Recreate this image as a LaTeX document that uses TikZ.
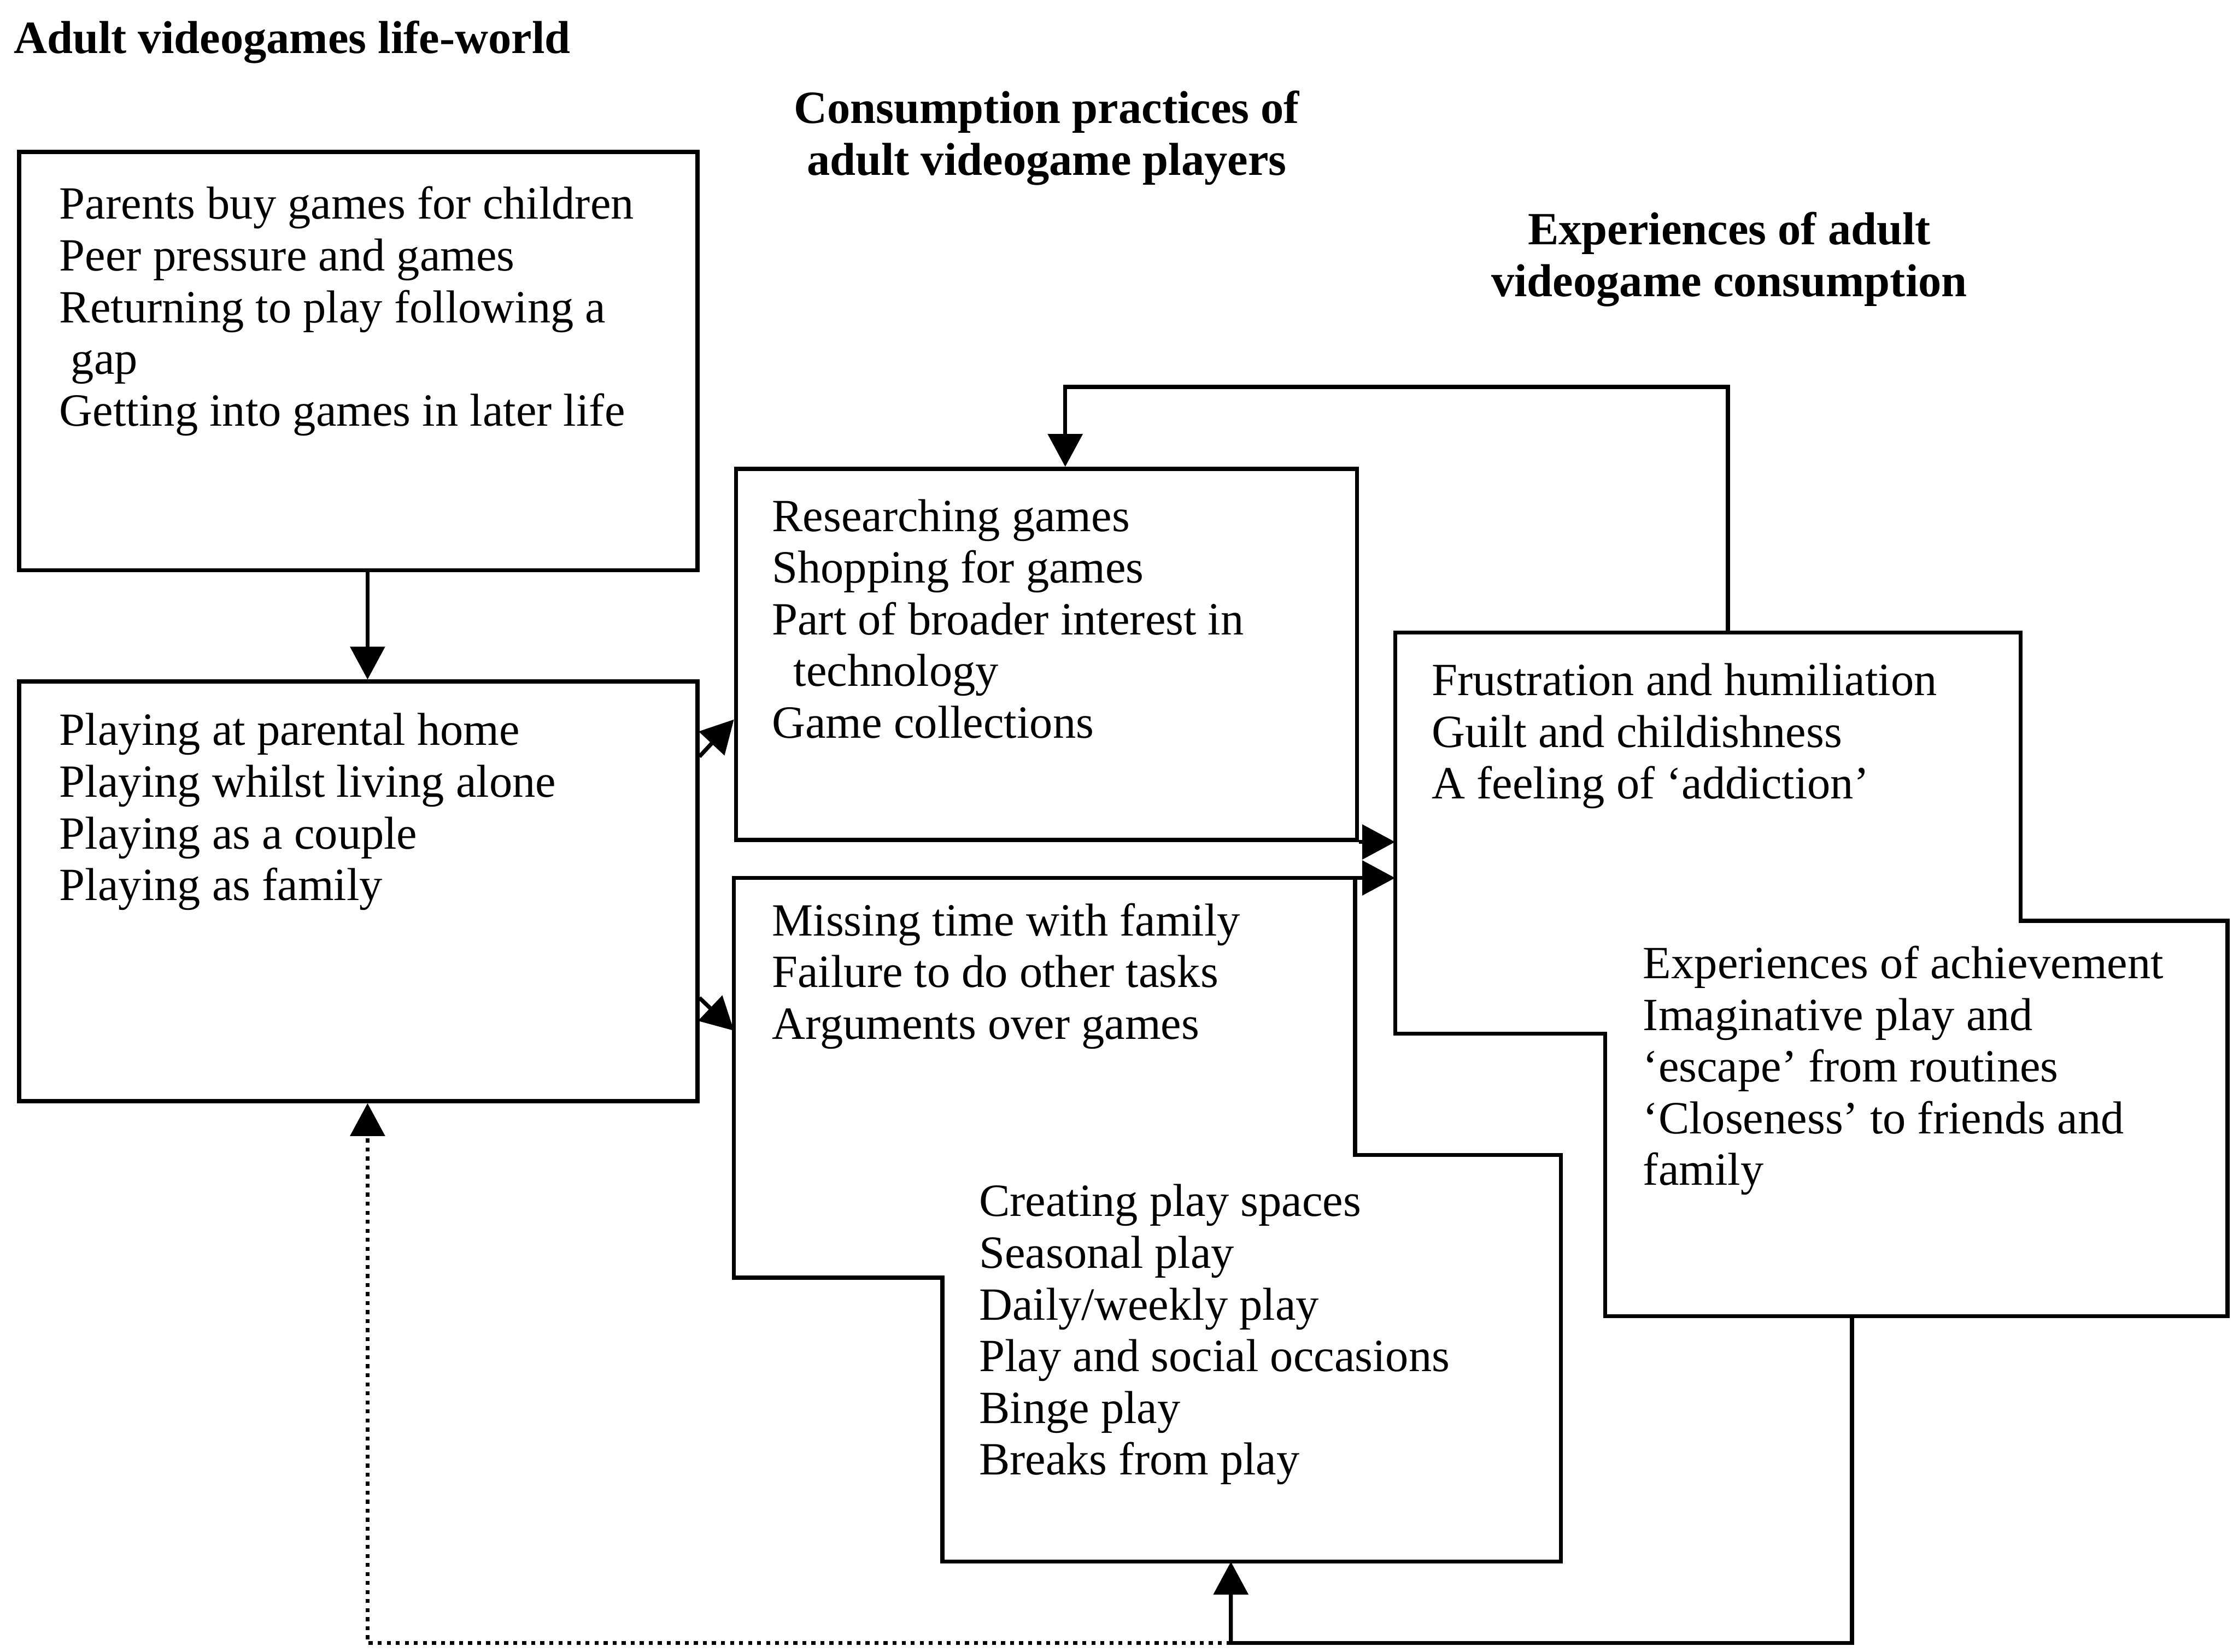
\documentclass[tikz,border=0pt]{standalone}
\usepackage{fontspec}
\setmainfont{Liberation Serif}
\usetikzlibrary{arrows.meta}

\begin{document}
\begin{tikzpicture}[x=0.1mm, y=-0.1mm,
        box/.style={draw, thick, inner sep=0pt, anchor=north west},
        txt/.style={inner sep=0pt, anchor=north west, align=left, font=\fontsize{9.2}{10.3}\selectfont},
        head/.style={inner sep=0pt, anchor=north, align=center, font=\fontsize{9.2}{10.3}\selectfont\bfseries},
        arr/.style={thick, -{Triangle[length=2.3mm, width=2.4mm]}}]
        \useasboundingbox (0,0) rectangle (1568,1157);

        % Headings
        \node[head, anchor=north west] (H_1) at (9,14) {Adult videogames life-world};
        \node[head] (H_2) at (733,63) {Consumption practices of\\adult videogame players};
        \node[head] (H_3) at (1211,148) {Experiences of adult\\videogame consumption};

        % Rectangular boxes
        \node[box, minimum width=47.5mm, minimum height=29.3mm] (A) at (12,105) {};
        \node[box, minimum width=47.5mm, minimum height=29.4mm] (B) at (12,476) {};
        \node[box, minimum width=43.5mm, minimum height=26mm] (C) at (514,327) {};

        % Define corners of the stepped boxes
        \coordinate (D_1) at (514,615);
        \coordinate (D_2) at (949,615);
        \coordinate (D_3) at (949,809);
        \coordinate (D_4) at (1093,809);
        \coordinate (D_5) at (1093,1094);
        \coordinate (D_6) at (660,1094);
        \coordinate (D_7) at (660,895);
        \coordinate (D_8) at (514,895);

        \coordinate (E_1) at (977,443);
        \coordinate (E_2) at (1415,443);
        \coordinate (E_3) at (1415,645);
        \coordinate (E_4) at (1560,645);
        \coordinate (E_5) at (1560,922);
        \coordinate (E_6) at (1124,922);
        \coordinate (E_7) at (1124,724);
        \coordinate (E_8) at (977,724);

        % Draw stepped boxes
        \draw[thick] (D_1) -- (D_2) -- (D_3) -- (D_4) -- (D_5) -- (D_6) -- (D_7) -- (D_8) -- cycle;
        \draw[thick] (E_1) -- (E_2) -- (E_3) -- (E_4) -- (E_5) -- (E_6) -- (E_7) -- (E_8) -- cycle;

        % Box texts
        \node[txt] (T_A) at (41,130) {Parents buy games for children\\Peer pressure and games\\Returning to play following a\\\hspace*{0.8mm}gap\\Getting into games in later life};
        \node[txt] (T_B) at (41,499) {Playing at parental home\\Playing whilst living alone\\Playing as a couple\\Playing as family};
        \node[txt] (T_C) at (540,349) {Researching games\\Shopping for games\\Part of broader interest in\\\hspace*{1.5mm}technology\\Game collections};
        \node[txt] (T_D1) at (540,632) {Missing time with family\\Failure to do other tasks\\Arguments over games};
        \node[txt] (T_D2) at (685,829) {Creating play spaces\\Seasonal play\\Daily/weekly play\\Play and social occasions\\Binge play\\Breaks from play};
        \node[txt] (T_E1) at (1002,464) {Frustration and humiliation\\Guilt and childishness\\A feeling of ‘addiction’};
        \node[txt] (T_E2) at (1150,662) {Experiences of achievement\\Imaginative play and\\‘escape’ from routines\\‘Closeness’ to friends and\\family};

        % Draw connectors
        \draw[arr] ([xshift=0.65mm]A.south) -- ([xshift=0.65mm]B.north);
        \draw[arr] ([yshift=-5.4mm]B.north east) -- ([yshift=-17.7mm]C.north west);
        \draw[arr] ([yshift=-22.3mm]B.north east) -- ([yshift=-10.7mm]D_1);
        \draw[arr] (C.south east) -- (C.south east -| E_1);
        \draw[arr] (D_2) -- (D_2 -| E_1);

        % Feedback loops
        \coordinate (L_1) at (862,1151);
        \draw[arr] ([xshift=23.3mm]E_1) -- ++(0,-172) -| ([xshift=23.2mm]C.north west);
        \draw[thick] ([xshift=17.3mm]E_6) |- (L_1);
        \draw[arr] (L_1) -- ([xshift=20.2mm]D_6);
        \draw[arr, densely dotted] (L_1) -| ([xshift=0.65mm]B.south);

\end{tikzpicture}
\end{document}
